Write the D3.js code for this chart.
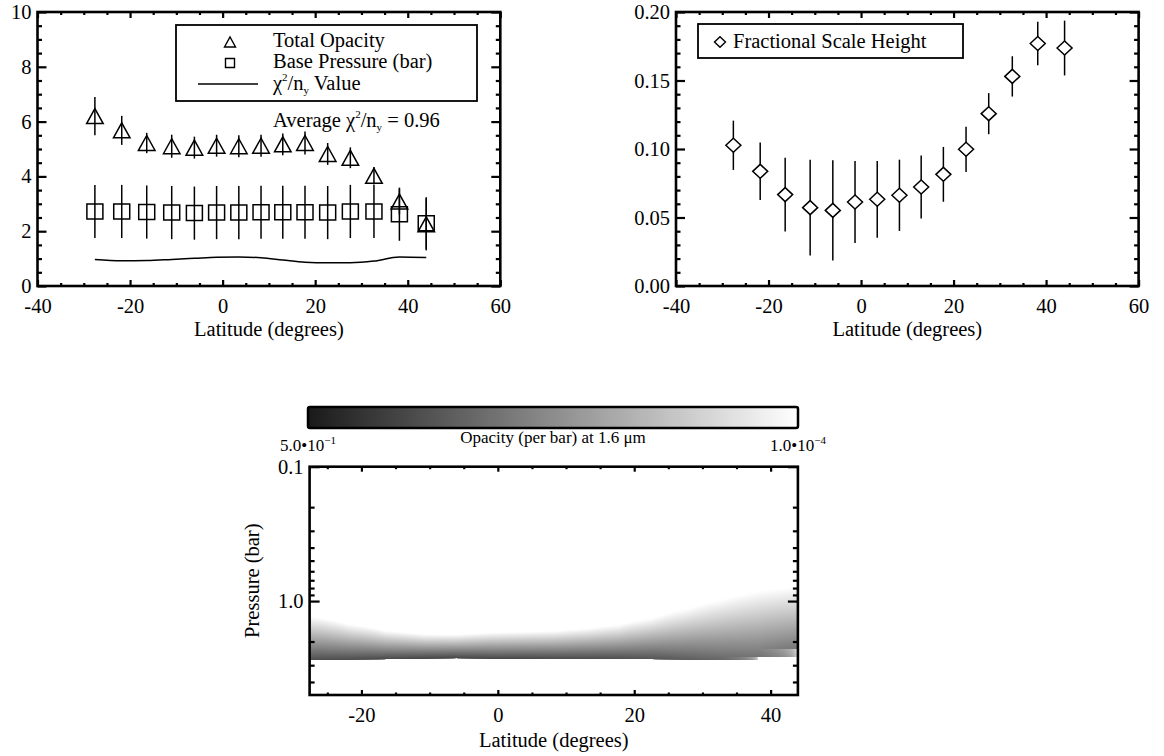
<!DOCTYPE html>
<html>
<head>
<meta charset="utf-8">
<script src="https://cdn.jsdelivr.net/npm/d3@7"></script>
<style>
  body { margin: 0; background: #fff; }
  svg text { font-family: "Liberation Serif", "Times New Roman", serif; fill: #000; }
</style>
</head>
<body>
<svg id="fig" width="1164" height="756" font-family="Liberation Serif, serif"></svg>
<script>
// values
const latitudes       = [-27.6, -21.8, -16.4, -11.0, -6.1, -1.3, 3.5, 8.3, 13.0, 17.8, 22.7, 27.6, 32.7, 38.2, 44.0];
const totalOpacity    = [6.2, 5.68, 5.22, 5.1, 5.05, 5.12, 5.1, 5.12, 5.17, 5.22, 4.82, 4.68, 4.02, 3.08, 2.25];
const totalOpacityErr = [0.7, 0.53, 0.37, 0.42, 0.4, 0.4, 0.4, 0.4, 0.4, 0.42, 0.4, 0.38, 0.32, 0.47, 0.95];
const basePressure    = [2.72, 2.72, 2.70, 2.68, 2.66, 2.68, 2.68, 2.69, 2.69, 2.69, 2.68, 2.72, 2.72, 2.62, 2.29];
const basePressureErr = [0.97, 0.97, 0.97, 0.97, 0.97, 0.97, 0.97, 0.97, 0.97, 0.97, 0.97, 0.97, 0.97, 0.97, 0.95];
const chiSq           = [0.97, 0.92, 0.93, 0.97, 1.01, 1.05, 1.06, 1.03, 0.95, 0.87, 0.85, 0.85, 0.91, 1.06, 1.04];
const scaleHeight     = [0.1027, 0.0837, 0.0667, 0.0572, 0.0552, 0.0613, 0.0633, 0.0662, 0.0723, 0.0815, 0.0998, 0.1258, 0.153, 0.177, 0.1737];
const scaleHeightErr  = [0.018, 0.021, 0.027, 0.035, 0.0365, 0.030, 0.028, 0.026, 0.023, 0.020, 0.0165, 0.015, 0.0147, 0.0158, 0.020];

const latTicks      = [-40, -20, 0, 20, 40, 60];
const opacityTicks  = [0, 2, 4, 6, 8, 10];
const scaleTicks    = [0, 0.05, 0.10, 0.15, 0.20];
const mapLatTicks   = [-20, 0, 20, 40];
const pressureTicks = [0.1, 1.0];
const pressureMinor = [0.2, 0.3, 0.4, 0.5, 0.6, 0.7, 0.8, 0.9, 2, 3, 4];
const colorbarRange = [0.5, 1e-4];
const averageChi    = "0.96";
const opacityNorm   = 1 / 350;   // display normalisation of the haze profile

const FONT = '"Liberation Serif", "Times New Roman", serif';
const FS = 20.5, FS_SMALL = 17;
const svg = d3.select("#fig");

function label(sel, x, y, txt, size) {
  return sel.append("text").attr("x", x).attr("y", y)
    .attr("font-family", FONT).attr("font-size", size || FS).text(txt || null);
}

function drawAxes(g, x, y, o) {
  const W = Math.max(...x.range()), H = Math.max(...y.range());
  const clean = s => {
    s.select(".domain").remove();
    s.attr("font-size", FS).attr("font-family", FONT);
    s.selectAll("line").attr("stroke-width", 2.2);
  };

  g.append("g").attr("transform", `translate(0,${H})`)
    .call(d3.axisBottom(x).tickValues(o.xTicks).tickSizeInner(-o.xLen).tickSizeOuter(0).tickPadding(o.xPad).tickFormat(o.xFmt))
    .call(clean);
  g.append("g").attr("transform", `translate(0,${H})`)
    .call(d3.axisBottom(x).tickValues(o.xMinor).tickSizeInner(-o.xLen / 2).tickSizeOuter(0).tickFormat(""))
    .call(clean);
  g.append("g")
    .call(d3.axisTop(x).tickValues(o.xTicks).tickSizeInner(-o.xLen).tickSizeOuter(0).tickFormat(""))
    .call(clean);
  g.append("g")
    .call(d3.axisTop(x).tickValues(o.xMinor).tickSizeInner(-o.xLen / 2).tickSizeOuter(0).tickFormat(""))
    .call(clean);

  g.append("g")
    .call(d3.axisLeft(y).tickValues(o.yTicks).tickSizeInner(-o.yLen).tickSizeOuter(0).tickPadding(6).tickFormat(o.yFmt))
    .call(clean);
  g.append("g")
    .call(d3.axisLeft(y).tickValues(o.yMinor).tickSizeInner(-o.yLen / 2).tickSizeOuter(0).tickFormat(""))
    .call(clean);
  g.append("g").attr("transform", `translate(${W},0)`)
    .call(d3.axisRight(y).tickValues(o.yTicks).tickSizeInner(-o.yLen).tickSizeOuter(0).tickFormat(""))
    .call(clean);
  g.append("g").attr("transform", `translate(${W},0)`)
    .call(d3.axisRight(y).tickValues(o.yMinor).tickSizeInner(-o.yLen / 2).tickSizeOuter(0).tickFormat(""))
    .call(clean);

  g.append("rect").attr("width", W).attr("height", H)
    .attr("fill", "none").attr("stroke", "#000").attr("stroke-width", 2.6);
}

const tri = (cx, cy, w, h) => `M${cx - w},${cy + h}L${cx},${cy - h}L${cx + w},${cy + h}Z`;
const sq  = (cx, cy, w, h) => `M${cx - w},${cy - h}H${cx + w}V${cy + h}H${cx - w}Z`;
const dia = (cx, cy, w, h) => `M${cx - w},${cy}L${cx},${cy - h}L${cx + w},${cy}L${cx},${cy + h}Z`;

function chiLabel(t, prefix, suffix) {
  if (prefix) t.append("tspan").text(prefix);
  t.append("tspan").text("χ");
  t.append("tspan").attr("font-size", 11).attr("dy", -9).text("2");
  t.append("tspan").attr("dy", 9).text("/n");
  t.append("tspan").attr("font-size", 11).attr("dy", 4).text("y");
  t.append("tspan").attr("dy", -4).text(suffix);
}

// ---------- top left: opacity / base pressure ----------
{
  const W = 462.8, H = 274;
  const g = svg.append("g").attr("transform", "translate(37.5,12)");
  const x = d3.scaleLinear().domain([-40, 60]).range([0, W]);
  const y = d3.scaleLinear().domain([0, 10]).range([H, 0]);
  const rows = latitudes.map((lat, i) => ({ lat, t: totalOpacity[i], te: totalOpacityErr[i], b: basePressure[i], be: basePressureErr[i], c: chiSq[i] }));

  g.append("path").datum(rows)
    .attr("fill", "none").attr("stroke", "#000").attr("stroke-width", 1.5)
    .attr("d", d3.line().x(d => x(d.lat)).y(d => y(d.c)).curve(d3.curveMonotoneX));

  g.selectAll(".eb").data(rows).join("line")
    .attr("x1", d => x(d.lat)).attr("x2", d => x(d.lat))
    .attr("y1", d => y(d.b - d.be)).attr("y2", d => y(d.b + d.be))
    .attr("stroke", "#000").attr("stroke-width", 1.5);
  g.selectAll(".et").data(rows).join("line")
    .attr("x1", d => x(d.lat)).attr("x2", d => x(d.lat))
    .attr("y1", d => y(d.t - d.te)).attr("y2", d => y(d.t + d.te))
    .attr("stroke", "#000").attr("stroke-width", 1.5);
  g.selectAll(".sq").data(rows).join("path")
    .attr("d", d => sq(x(d.lat), y(d.b), 8, 7.5))
    .attr("fill", "none").attr("stroke", "#000").attr("stroke-width", 1.5);
  g.selectAll(".tr").data(rows).join("path")
    .attr("d", d => tri(x(d.lat), y(d.t), 8.3, 7.5))
    .attr("fill", "none").attr("stroke", "#000").attr("stroke-width", 1.5);

  drawAxes(g, x, y, {
    xTicks: latTicks, xMinor: d3.range(-35, 60, 5).filter(v => v % 20 !== 0), xFmt: d => String(d), xLen: 6, xPad: 12,
    yTicks: opacityTicks, yMinor: d3.range(0.5, 10, 0.5).filter(v => v % 2 !== 0), yFmt: d => String(d), yLen: 9
  });

  label(svg, 37.5 + W / 2, 335.5, "Latitude (degrees)").attr("text-anchor", "middle");

  // legend
  const lg = svg.append("g");
  lg.append("rect").attr("x", 176).attr("y", 25).attr("width", 301).attr("height", 76)
    .attr("fill", "#fff").attr("stroke", "#000").attr("stroke-width", 1.8);
  lg.append("path").attr("d", tri(230, 42, 5.5, 5)).attr("fill", "none").attr("stroke", "#000").attr("stroke-width", 1.4);
  label(lg, 273, 47, "Total Opacity");
  lg.append("path").attr("d", sq(230, 63, 4.5, 4.5)).attr("fill", "none").attr("stroke", "#000").attr("stroke-width", 1.4);
  label(lg, 273, 68, "Base Pressure (bar)");
  lg.append("line").attr("x1", 198).attr("x2", 258).attr("y1", 84).attr("y2", 84).attr("stroke", "#000").attr("stroke-width", 1.5);
  chiLabel(label(lg, 273, 90), "", " Value");
  chiLabel(label(svg, 273, 127), "Average ", " = " + averageChi);
}

// ---------- top right: fractional scale height ----------
{
  const W = 462.6, H = 274;
  const g = svg.append("g").attr("transform", "translate(676,12)");
  const x = d3.scaleLinear().domain([-40, 60]).range([0, W]);
  const y = d3.scaleLinear().domain([0, 0.2]).range([H, 0]);
  const rows = latitudes.map((lat, i) => ({ lat, v: scaleHeight[i], e: scaleHeightErr[i] }));

  g.selectAll(".ed").data(rows).join("line")
    .attr("x1", d => x(d.lat)).attr("x2", d => x(d.lat))
    .attr("y1", d => y(d.v - d.e)).attr("y2", d => y(d.v + d.e))
    .attr("stroke", "#000").attr("stroke-width", 1.5);
  g.selectAll(".dm").data(rows).join("path")
    .attr("d", d => dia(x(d.lat), y(d.v), 7.5, 7))
    .attr("fill", "#fff").attr("stroke", "#000").attr("stroke-width", 1.5);

  drawAxes(g, x, y, {
    xTicks: latTicks, xMinor: d3.range(-35, 60, 5).filter(v => v % 20 !== 0), xFmt: d => String(d), xLen: 6, xPad: 12,
    yTicks: scaleTicks, yMinor: d3.range(1, 20).filter(v => v % 5 !== 0).map(v => v / 100), yFmt: d3.format(".2f"), yLen: 9
  });

  label(svg, 676 + W / 2, 335.5, "Latitude (degrees)").attr("text-anchor", "middle");

  svg.append("rect").attr("x", 698).attr("y", 24).attr("width", 265).attr("height", 34)
    .attr("fill", "#fff").attr("stroke", "#000").attr("stroke-width", 1.8);
  svg.append("path").attr("d", dia(720, 42, 5.5, 5.3)).attr("fill", "none").attr("stroke", "#000").attr("stroke-width", 1.4);
  label(svg, 733, 48, "Fractional Scale Height");
}

// ---------- bottom: opacity map ----------
{
  const X0 = 309.6, Y0 = 466.7, W = 488.3, H = 228.3;
  const g = svg.append("g").attr("transform", `translate(${X0},${Y0})`);
  const x = d3.scaleLinear().domain([latitudes[0], latitudes[latitudes.length - 1]]).range([0, W]);
  const y = d3.scaleLog().domain([0.1, 5]).range([0, H]);
  const color = d3.scaleLog().domain(colorbarRange).range(["#1a1a1a", "#ffffff"]).clamp(true);

  // haze opacity per bar at pressure p for measured latitude i
  const opac = (i, p) => {
    const pb = basePressure[i], f = scaleHeight[i];
    if (p > pb) return 0;
    return opacityNorm * totalOpacity[i] / (f * pb) * Math.pow(p / pb, 1 / f - 1);
  };

  const cw = Math.round(W), ch = Math.round(H);
  const canvas = document.createElement("canvas");
  canvas.width = cw; canvas.height = ch;
  const ctx = canvas.getContext("2d");
  const img = ctx.createImageData(cw, ch);
  const bis = d3.bisector(d => d).right;
  for (let c = 0; c < cw; c++) {
    const lat = x.invert((c + 0.5) * W / cw);
    const j = Math.min(Math.max(bis(latitudes, lat) - 1, 0), latitudes.length - 2);
    const t = Math.min(Math.max((lat - latitudes[j]) / (latitudes[j + 1] - latitudes[j]), 0), 1);
    for (let r = 0; r < ch; r++) {
      const p = y.invert((r + 0.5) * H / ch);
      const v = (1 - t) * opac(j, p) + t * opac(j + 1, p);
      const col = v > 0 ? d3.rgb(color(v)) : d3.rgb(255, 255, 255);
      const k = (r * cw + c) * 4;
      img.data[k] = col.r; img.data[k + 1] = col.g; img.data[k + 2] = col.b; img.data[k + 3] = 255;
    }
  }
  ctx.putImageData(img, 0, 0);
  g.append("image").attr("width", W).attr("height", H)
    .attr("preserveAspectRatio", "none").attr("href", canvas.toDataURL());

  drawAxes(g, x, y, {
    xTicks: mapLatTicks, xMinor: d3.range(-25, 44, 5).filter(v => v % 20 !== 0), xFmt: d => String(d), xLen: 5, xPad: 12,
    yTicks: pressureTicks, yMinor: pressureMinor, yFmt: d => d.toFixed(1), yLen: 10
  });

  label(svg, X0 + W / 2, 746.5, "Latitude (degrees)").attr("text-anchor", "middle");
  label(svg, 0, 0, "Pressure (bar)").attr("x", null).attr("y", null)
    .attr("transform", `translate(259,${Y0 + 114}) rotate(-90)`).attr("text-anchor", "middle");

  // colour bar
  const cb = d3.scaleLog().domain(colorbarRange).range([308, 798]);
  const cbg = svg.append("g");
  const steps = d3.range(308, 798, 2);
  cbg.selectAll("rect").data(steps).join("rect")
    .attr("x", d => d).attr("y", 407).attr("width", 2.6).attr("height", 21)
    .attr("fill", d => color(cb.invert(d + 1)));
  cbg.append("rect").attr("x", 308).attr("y", 407).attr("width", 490).attr("height", 21).attr("rx", 2)
    .attr("fill", "none").attr("stroke", "#000").attr("stroke-width", 2.5);
  label(svg, 553, 443, "Opacity (per bar) at 1.6 μm", FS_SMALL).attr("text-anchor", "middle");

  colorbarRange.forEach(v => {
    const ex = Math.floor(Math.log10(v));
    const mant = (v / Math.pow(10, ex)).toFixed(1);
    const t = label(svg, cb(v), 451, null, FS_SMALL).attr("text-anchor", "middle");
    t.append("tspan").text(mant + "•10");
    t.append("tspan").attr("font-size", 11).attr("dy", -7).text("−" + Math.abs(ex));
  });
}
</script>
</body>
</html>
